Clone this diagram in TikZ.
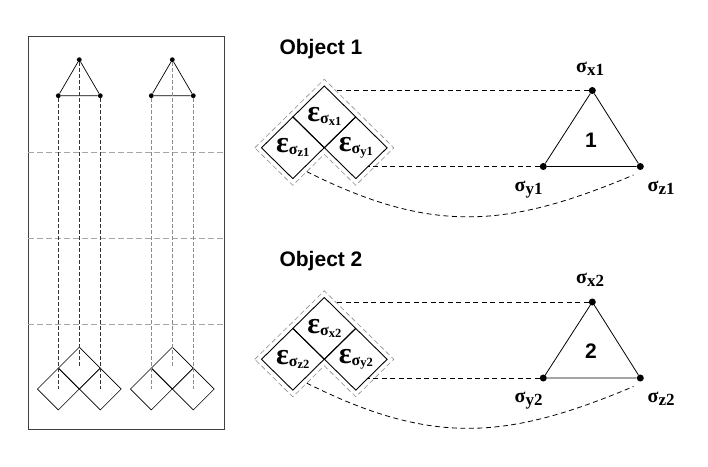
\documentclass[tikz,border=0pt]{standalone}
\usepackage{fontspec}
\setmainfont{Liberation Serif}
\newfontfamily\hsans{Liberation Sans}
\usetikzlibrary{shapes.geometric}
\newcommand{\epsl}[1]{{\fontsize{30}{30}\selectfont\bfseries ε}\raisebox{-2pt}{\fontsize{16}{16}\selectfont\bfseries σ\raisebox{-1.8pt}{\fontsize{12.5}{12.5}\selectfont\bfseries #1}}}
\newcommand{\sigl}[1]{{\fontsize{20}{20}\selectfont\bfseries σ}\raisebox{-3pt}{\fontsize{17}{17}\selectfont\bfseries #1}}
\begin{document}
\begin{tikzpicture}[x=1pt,y=-1pt,
  dot/.style={circle,fill=black,inner sep=0pt,minimum size=7pt},
  sdot/.style={circle,fill=black,inner sep=0pt,minimum size=4.8pt},
  bigdia/.style={diamond,draw=black,line width=0.9pt,inner sep=0pt,minimum width=63pt,minimum height=62pt},
  smalldia/.style={diamond,draw=black,line width=0.6pt,inner sep=0pt,minimum width=42pt,minimum height=42pt},
  tri/.style={draw=black,line width=0.7pt},
  link/.style={draw=black,line width=0.8pt,dash pattern=on 5pt off 3.5pt},
  grid/.style={draw=black!35,line width=0.6pt,dash pattern=on 6pt off 3pt},
  drop/.style={line width=0.6pt,dash pattern=on 3.5pt off 2.5pt},
  halo/.style={draw=black!45,line width=0.6pt,dash pattern=on 5pt off 3pt},
  objlab/.style={font={\hsans\bfseries\fontsize{21}{21}\selectfont},inner sep=0pt,anchor=base},
  siglab/.style={inner sep=0pt,anchor=base west}
]
\useasboundingbox (0,0) rectangle (708,466);
\fill[white] (0,0) rectangle (708,466);

% ---------- left panel ----------
\node[draw=black!75,line width=1pt,minimum width=196pt,minimum height=393pt,inner sep=0pt,anchor=north west] (panel) at (28,36) {};
\foreach \yy in {152.3,238.3,324.3}
  \draw[grid] (panel.west |- 0,\yy) -- (panel.east |- 0,\yy);

\foreach \n/\cx/\col in {a/79.3/black!80,b/172.3/black!45}{
  \node[sdot] (\n t) at (\cx,59.7) {};
  \node[sdot] (\n l) at (\cx-21,95.7) {};
  \node[sdot] (\n r) at (\cx+21,95.7) {};
  \node[smalldia] (\n dt) at (\cx,368) {};
  \node[smalldia] (\n dl) at (\cx-21,389) {};
  \node[smalldia] (\n dr) at (\cx+21,389) {};
  \draw[tri] (\n t) -- (\n l) -- (\n r) -- (\n t);
  \draw[drop,draw=\col] (\n t) -- (\n dt.center);
  \draw[drop,draw=\col] (\n l) -- (\n dl.center);
  \draw[drop,draw=\col] (\n r) -- (\n dr.center);
}

% ---------- right panel ----------
\foreach \i/\dy in {1/0,2/211.5}{
\begin{scope}[shift={(0,\dy)}]
  \node[objlab] (obj\i) at (321,54.5) {Object \i};
  % halo outline
  \draw[halo] (254.8,147.8) -- (324.3,79.3) -- (393.8,147.8) -- (355.8,185.3)
     -- (324.3,154.3) -- (292.8,185.3) -- cycle;
  % strain diamonds
  \node[bigdia] (et\i) at (324.3,116.8) {\epsl{x\i}};
  \node[bigdia] (el\i) at (292.8,147.8) {\epsl{z\i}};
  \node[bigdia] (er\i) at (355.8,147.8) {\epsl{y\i}};
  % stress triangle
  \node[dot] (x\i) at (592.3,90.5) {};
  \node[dot] (y\i) at (543.3,166.5) {};
  \node[dot] (z\i) at (640.3,166.5) {};
  \draw[tri,line width=0.8pt] (x\i) -- (y\i) -- (z\i) -- (x\i);
  \node[objlab] (n\i) at (591,147) {\i};
  \node[siglab] (lx\i) at (576,72) {\sigl{x\i}};
  \node[siglab] (ly\i) at (514.5,191) {\sigl{y\i}};
  \node[siglab] (lz\i) at (647.5,191) {\sigl{z\i}};
  % connectors
  \coordinate (hx\i) at (335.7,90.5);
  \coordinate (hy\i) at (368.3,166.5);
  \coordinate (cs\i) at (306.7,171.6);
  \coordinate (ce\i) at (633.5,175);
  \draw[link] (x\i) -- (hx\i);
  \draw[link] (y\i) -- (hy\i);
  \draw[link] (cs\i) .. controls (432.7,234.7) and (507.5,228) .. (ce\i);
\end{scope}
}
\end{tikzpicture}
\end{document}
